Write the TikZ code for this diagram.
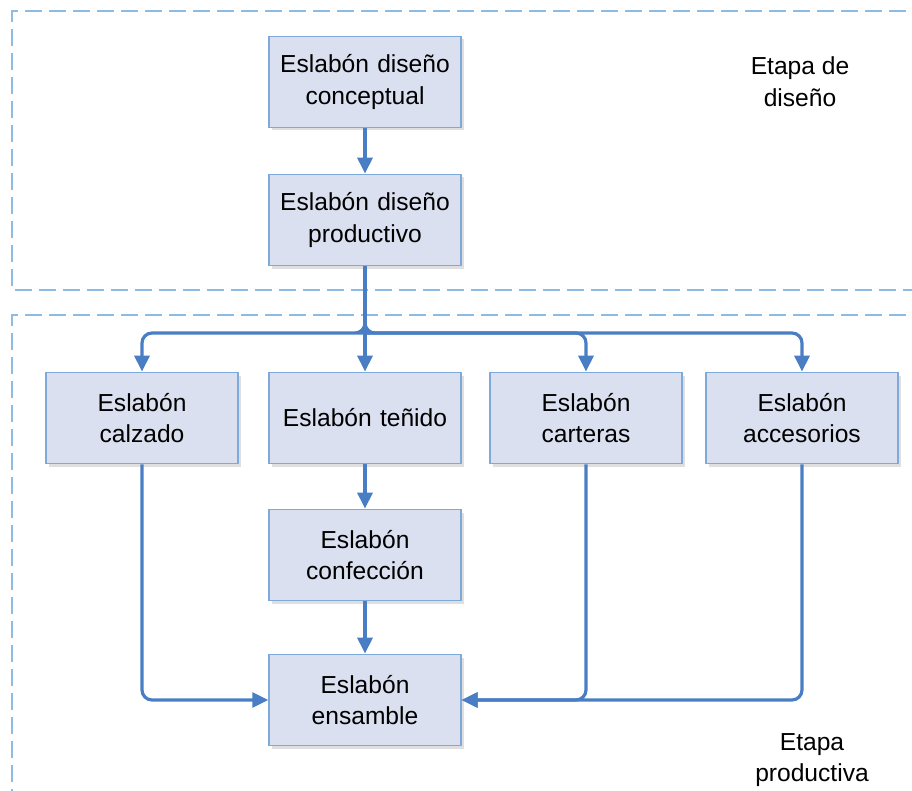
\documentclass[tikz,border=0pt]{standalone}
\usepackage{fontspec}
\setmainfont{Liberation Sans}
\usetikzlibrary{arrows.meta}
\usetikzlibrary{shadows}
\definecolor{boxfill}{HTML}{DAE0EF}
\definecolor{boxline}{HTML}{7DAADB}
\definecolor{flowline}{HTML}{4A7EC4}
\definecolor{stageline}{HTML}{8DBBE4}
\tikzstyle{eslabon}=[
      rectangle,
      draw = boxline,
      fill = boxfill,
      line width = 1pt,
      minimum width = 3.8cm,
      minimum height = 1.82cm,
      text width = 3.6cm,
      align = center,
      font = \fontsize{14}{18}\selectfont,
      drop shadow = {shadow xshift=0.06cm, shadow yshift=-0.06cm, opacity=0.25}
      ]
\tikzstyle{flujo}=[
      draw = flowline,
      line width = 1.8pt,
      rounded corners = 0.2cm,
      -{Triangle[length=0.32cm,width=0.3cm]}
      ]
\tikzstyle{etapa}=[
      draw = stageline,
      line width = 1.1pt,
      dash pattern = on 0.34cm off 0.14cm
      ]
\tikzstyle{etiqueta}=[
      align = center,
      font = \fontsize{14}{18}\selectfont
      ]

\begin{document}
\begin{tikzpicture}
\useasboundingbox (0,0) rectangle (18.24,-15.82);

% etapas
\draw [etapa] (18.6,-0.22) -- (0.24,-0.22) -- (0.24,-5.8) -- (18.6,-5.8);
\draw [etapa] (18.6,-6.3) -- (0.24,-6.3) -- (0.24,-16.2);
\node [etiqueta] (etdis) at (16.0,-1.64) {Etapa de\\diseño};
\node [etiqueta] (etprod) at (16.24,-15.2) {Etapa\\productiva};

% eslabones
\node [eslabon] (conceptual) at (7.3,-1.64) {Eslabón diseño conceptual};
\node [eslabon] (productivo) at (7.3,-4.40) {Eslabón diseño productivo};
\node [eslabon] (calzado) at (2.84,-8.36) {Eslabón\\calzado};
\node [eslabon] (tenido) at (7.3,-8.36) {Eslabón teñido};
\node [eslabon] (carteras) at (11.72,-8.36) {Eslabón\\carteras};
\node [eslabon] (accesorios) at (16.04,-8.36) {Eslabón\\accesorios};
\node [eslabon] (confeccion) at (7.3,-11.10) {Eslabón\\confección};
\node [eslabon] (ensamble) at (7.3,-14.00) {Eslabón\\ensamble};
\coordinate (bus) at (7.3,-6.66);

% flujo
\draw [flujo] (conceptual) -- (productivo);
\draw [flujo] (productivo) -- (tenido);
\draw [flujo] (productivo) |- ([xshift=-0.2cm]bus) -| (calzado);
\draw [flujo] (productivo) |- ([xshift=0.2cm]bus) -| (carteras);
\draw [flujo] (bus) -| (accesorios);
\draw [flujo] (tenido) -- (confeccion);
\draw [flujo] (confeccion) -- (ensamble);
\draw [flujo] (calzado) |- (ensamble);
\draw [flujo] (carteras) |- (ensamble);
\draw [flujo] (accesorios) |- (ensamble);
\end{tikzpicture}
\end{document}
